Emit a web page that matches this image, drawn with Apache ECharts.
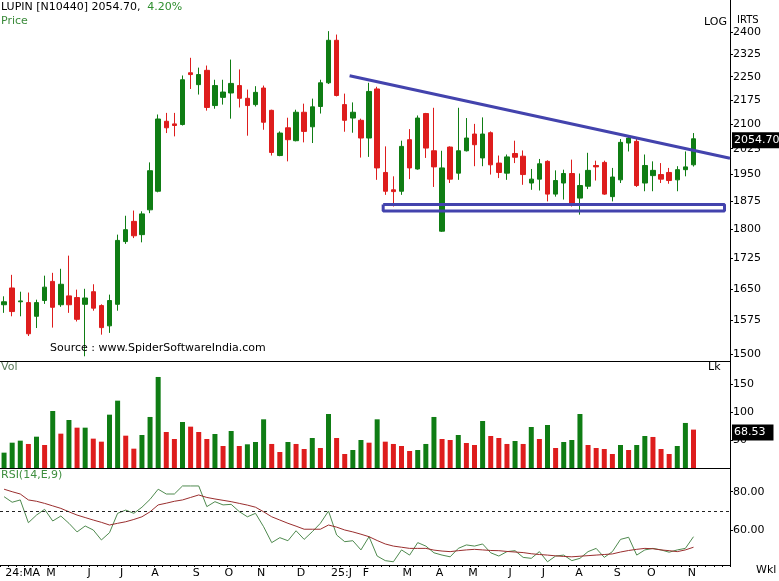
<!DOCTYPE html>
<html><head><meta charset="utf-8">
<script src="https://cdn.jsdelivr.net/npm/echarts@6/dist/echarts.min.js"></script>
<style>html,body{margin:0;padding:0;background:#fff}#c{width:779px;height:581px}</style>
</head><body><div id="c"></div>
<script>
// ---- data (weekly, LUPIN) ----
const open  = [1612,1652,1619,1617,1585,1622,1668,1612,1633,1629,1613,1643,1610,1563,1613,1768,1821,1786,1852,1903,2108,2100,2098,2263,2224,2271,2157,2183,2197,2221,2180,2160,2213,2142,2005,2088,2049,2136,2091,2154,2230,2373,2160,2118,2111,2057,2210,1956,1907,1903,2052,1966,2132,2019,1795,2030,1954,2019,2069,1998,2073,1983,1954,2011,2003,1926,1937,1988,1895,1926,1953,1884,1917,1976,1985,1888,1935,2042,2047,1926,1947,1950,1956,1935,1964,1978];
const high  = [1632,1684,1643,1641,1624,1682,1689,1699,1732,1648,1650,1661,1613,1636,1786,1836,1850,1848,1985,2129,2134,2134,2254,2313,2280,2287,2240,2240,2307,2274,2208,2219,2221,2144,2077,2119,2144,2163,2179,2240,2405,2393,2195,2167,2116,2230,2217,2032,1945,2049,2084,2126,2134,2150,2019,2032,2150,2118,2100,2120,2077,2005,2008,2049,2020,1966,1995,1991,1962,1964,1993,1953,2013,1990,1990,1969,2054,2064,2054,2008,1988,1983,1969,1974,2017,2072];
const low   = [1593,1585,1585,1540,1558,1614,1559,1607,1593,1573,1495,1598,1543,1547,1598,1762,1777,1766,1843,1900,2072,2062,2095,2210,2192,2141,2147,2160,2116,2151,2064,2154,2082,2005,2003,1988,2047,2044,2042,2132,2226,2186,2076,2073,1999,2001,1935,1893,1861,1893,1937,1964,1998,1915,1793,1926,1935,2017,1974,1974,1950,1940,1935,1983,1921,1907,1905,1875,1888,1880,1861,1839,1909,1933,1893,1875,1926,2017,1915,1903,1903,1926,1924,1903,1945,1973];
const close = [1619,1596,1621,1545,1617,1654,1606,1661,1612,1578,1628,1604,1559,1622,1771,1799,1783,1841,1961,2115,2088,2095,2240,2257,2257,2151,2221,2200,2228,2180,2157,2199,2105,2014,2072,2052,2136,2077,2153,2230,2373,2189,2111,2136,2057,2202,1969,1903,1902,2032,1969,2118,2027,1972,1969,1937,2019,2057,2037,2069,1978,1956,2001,2000,1950,1937,1981,1895,1933,1953,1864,1919,1962,1972,1895,1943,2044,2057,1919,1976,1962,1937,1933,1964,1972,2054.7];
const volume = [27.4,45.2,48.8,42.9,55.9,41.1,101.8,61.3,85.7,72,72,52.4,47,95.2,120.2,57.7,34.5,58.9,91.1,162.5,64.3,51.8,82.1,73.8,64.3,51.8,60.7,39.3,66.1,39.3,42.3,46.4,86.9,42.9,28.6,46.4,42.9,33.9,53.6,35.7,96.4,53.6,25,32.1,50,45.2,86.9,47,42.9,39.3,30.4,32.1,42.9,91.1,51.8,50,58.9,44.6,41.1,83.9,57.1,53.6,42.9,48.2,42.9,73.2,51.8,76.8,35.7,46.4,50,96.4,41.1,35.7,33.9,25,41.1,32.1,41.1,57.1,55.4,33.9,25,39.3,80.4,68.53];
const volUp  = [1,1,1,0,1,0,1,0,1,0,1,0,0,1,1,0,0,1,1,1,0,0,1,0,0,0,1,0,1,0,1,1,1,0,0,1,0,0,1,0,1,0,0,1,1,0,1,0,0,0,0,1,1,1,0,0,1,0,0,1,0,0,0,1,0,1,0,1,0,1,1,1,0,0,0,0,1,0,1,1,0,0,0,1,1,0];
const rsi    = [77.4,74.5,75.7,63.8,67.8,70.8,64.7,67.3,63.5,59,62.1,60,54.8,58.6,68.7,70.4,68.7,71.9,76,81.3,78.8,78.8,83,83,83,72.2,74.8,73.1,73.4,69.6,66.9,68.7,61.7,53.4,56,54.4,59.6,55.1,59.1,63.5,69.9,57.4,53.9,54.4,49.6,56.5,46.4,44,43.4,49.6,46.9,53.4,51.6,48.1,46.9,46,50.4,52.2,51.6,52.7,48.1,46.4,48.7,49.2,45.7,45.2,48.7,43.4,46.4,46.9,44,45.2,48.7,50.4,45.7,48.7,55.1,56.2,46.9,49.6,50.4,49.6,48.4,49.6,50.4,56.5];
const rsiSignal = [81.3,80,78.8,75.7,75,73.9,72.6,71.3,69.5,67.8,66.5,65.2,64,62.6,63.5,64.3,65.5,66.9,69.5,73.1,74,75,75.7,77,78.3,77,76.2,75.5,74.8,73.9,73,71.9,69.5,66.9,65.2,63.5,62,60.4,60.4,60.4,62.6,61.5,60,59,57.8,56.5,54.5,52.7,51.6,51,50.4,50.4,50.4,49.5,49,48.7,49.2,49.6,49.9,49.6,49.3,49.2,48.8,48.5,48.2,47.6,47.2,46.9,46.5,46.2,46,46.3,46.6,46.9,47.2,47.5,48.5,49.3,49.9,50.4,50.2,49.6,49.2,48.7,49.6,51];
const emptyWeeks = 4;
const priceTicks = [1500,1575,1650,1725,1800,1875,1950,2025,2100,2175,2250,2325,2400];
const volTicks = [50,100,150];
const rsiTicks = [60,80];
const monthLabels = ["24:MA","M","J","J","A","S","O","N","D","25:J","F","M","A","M","J","J","A","S","O","N"];
const monthPos    = [2.3,5.8,10.5,14.5,18.6,23.7,27.7,31.7,36.6,41.6,44.6,49.7,53.7,57.8,62.4,66.5,70.9,75.6,79.8,84.8];
// annotations (week index, price)
const trendX = [42.6, 89.5];
const trendY = [2253, 1997];
const boxX = [46.74, 88.82, 88.82, 46.74, 46.74];
const boxY = [1866.4, 1866.4, 1849, 1849, 1866.4];
const lastPrice = 2054.70, lastVol = 68.53;

const GREEN = '#0f7d14', RED = '#de1d1d', BLUE = '#4343ad';
const FONT = 'DejaVu Sans';
const n = open.length;
const cats = [];
for (let i = 0; i < n + emptyWeeks; i++) cats.push(String(i));
const L = Math.log;
const candles = open.map((o, i) => [L(o), L(close[i]), L(low[i]), L(high[i])]);
const volData = volume.map((v, i) => ({ value: v, itemStyle: { color: volUp[i] ? GREEN : RED } }));

const chart = echarts.init(document.getElementById('c'), null, { renderer: 'canvas' });
const xmax = n + emptyWeeks - 0.5;
const baseCat = (g) => ({ type: 'category', gridIndex: g, data: cats, boundaryGap: true, position: 'bottom',
  axisLine: { show: true, onZero: false, lineStyle: { color: '#000', width: 1 } }, axisTick: { show: false },
  axisLabel: { show: false }, splitLine: { show: false } });
const lab = { color: '#000', fontFamily: FONT, fontSize: 11 };
const yLine = { show: true, onZero: false, lineStyle: { color: '#000' } };
const boxLabel = { show: true, position: 'end', distance: 2, backgroundColor: '#000', color: '#fff',
  fontFamily: FONT, fontSize: 11, offset: [0, 3] };

chart.setOption({
  animation: false,
  backgroundColor: '#fff',
  grid: [
    { left: 0, right: 49, top: 0, height: 361 },
    { left: 0, right: 49, top: 361, height: 107 },
    { left: 0, right: 49, top: 468, height: 97 }
  ],
  xAxis: [
    baseCat(0),
    { type: 'value', gridIndex: 0, min: -0.5, max: xmax, show: false, position: 'bottom', axisLine: { onZero: false } },
    baseCat(1),
    Object.assign(baseCat(2), { axisTick: { show: true, interval: 0, length: 2, lineStyle: { color: '#000' } } }),
    { type: 'value', gridIndex: 2, min: -0.5, max: xmax, position: 'bottom',
      axisLine: { show: false, onZero: false }, axisTick: { show: false },
      splitLine: { show: false },
      axisLabel: Object.assign({ customValues: monthPos, margin: 3,
        formatter: v => { const k = monthPos.findIndex(p => Math.abs(p - v) < 1e-6); return k >= 0 ? monthLabels[k] : ''; } }, lab) }
  ],
  yAxis: [
    { type: 'value', gridIndex: 0, position: 'right', min: L(1484.7), max: L(2517),
      axisLine: yLine,
      axisTick: { show: true, length: 3, customValues: priceTicks.map(L), lineStyle: { color: '#000' } },
      axisLabel: Object.assign({ customValues: priceTicks.map(L), margin: 3, formatter: v => String(Math.round(Math.exp(v))) }, lab),
      splitLine: { show: false } },
    { type: 'value', gridIndex: 1, position: 'right', min: 0, max: 191,
      axisLine: yLine,
      axisTick: { show: true, length: 3, customValues: volTicks, lineStyle: { color: '#000' } },
      axisLabel: Object.assign({ customValues: volTicks, margin: 3 }, lab),
      splitLine: { show: false } },
    { type: 'value', gridIndex: 2, position: 'right', min: 41.72, max: 92.38,
      axisLine: yLine,
      axisTick: { show: true, length: 3, customValues: rsiTicks, lineStyle: { color: '#000' } },
      axisLabel: Object.assign({ customValues: rsiTicks, margin: 3, formatter: v => v.toFixed(2) }, lab),
      splitLine: { show: false } }
  ],
  series: [
    { type: 'candlestick', xAxisIndex: 0, yAxisIndex: 0, data: candles, barWidth: 5,
      itemStyle: { color: GREEN, color0: RED, borderColor: GREEN, borderColor0: RED, borderWidth: 1 },
      markLine: { silent: true, symbol: 'none', animation: false,
        data: [{ yAxis: L(lastPrice) }], lineStyle: { color: 'rgba(0,0,0,0)', width: 1 },
        label: Object.assign({ formatter: () => lastPrice.toFixed(2), padding: [3, 3, 2, 2] }, boxLabel) } },
    { type: 'line', xAxisIndex: 1, yAxisIndex: 0, symbol: 'none', z: 5,
      data: trendX.map((x, i) => [x, L(trendY[i])]), lineStyle: { color: BLUE, width: 3 } },
    { type: 'line', xAxisIndex: 1, yAxisIndex: 0, symbol: 'none', z: 5,
      data: boxX.map((x, i) => [x, L(boxY[i])]), lineStyle: { color: BLUE, width: 3 } },
    { type: 'bar', xAxisIndex: 2, yAxisIndex: 1, data: volData, barWidth: 5,
      markLine: { silent: true, symbol: 'none', animation: false,
        data: [{ yAxis: lastVol }], lineStyle: { color: 'rgba(0,0,0,0)', width: 1 },
        label: Object.assign({ formatter: () => lastVol.toFixed(2), padding: [3, 8, 2, 2] }, boxLabel) } },
    { type: 'line', xAxisIndex: 3, yAxisIndex: 2, data: rsi, symbol: 'none',
      lineStyle: { color: '#4f8a4f', width: 1 },
      markLine: { silent: true, symbol: 'none', animation: false, data: [{ yAxis: 70 }],
        lineStyle: { color: '#222', width: 1, type: [3, 3] }, label: { show: false } } },
    { type: 'line', xAxisIndex: 3, yAxisIndex: 2, data: rsiSignal, symbol: 'none',
      lineStyle: { color: '#9a2e2e', width: 1 } }
  ],
  graphic: [
    { type: 'text', left: 1, top: 1, z: 100, style: { text: '{a|LUPIN [N10440] 2054.70,}  {b|4.20%}',
      rich: { a: { fill: '#000', fontFamily: FONT, fontSize: 11 }, b: { fill: '#2f8f2f', fontFamily: FONT, fontSize: 11 } } } },
    { type: 'text', left: 1, top: 16, z: 100, style: { text: 'Price', fill: '#3a8a3a', font: '11px ' + FONT } },
    { type: 'text', left: 704, top: 17, z: 100, style: { text: 'LOG', fill: '#000', font: '11px ' + FONT } },
    { type: 'text', left: 737, top: 15, z: 100, style: { text: 'IRTS', fill: '#000', font: '10px ' + FONT } },
    { type: 'text', left: 50, top: 343, z: 100, style: { text: 'Source : www.SpiderSoftwareIndia.com', fill: '#000', font: '11px ' + FONT } },
    { type: 'text', left: 1, top: 362, z: 100, style: { text: 'Vol', fill: '#5a7a5a', font: '11px ' + FONT } },
    { type: 'text', left: 708, top: 362, z: 100, style: { text: 'Lk', fill: '#000', font: '11px ' + FONT } },
    { type: 'text', left: 1, top: 470, z: 100, style: { text: 'RSI(14,E,9)', fill: '#3f8f3f', font: '11px ' + FONT } },
    { type: 'text', left: 756, top: 565, z: 100, style: { text: 'Wkl', fill: '#000', font: '11px ' + FONT } }
  ]
});
</script>
</body></html>
